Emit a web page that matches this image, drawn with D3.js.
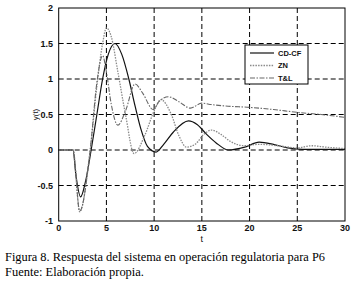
<!DOCTYPE html>
<meta charset="utf-8">
<html>
<head>
<style>
  body { margin: 0; background: #fff; }
  svg { display: block; }
  .tick-label { font-family: "Liberation Sans", Arial, sans-serif; font-weight: bold; font-size: 9px; fill: #111; }
  .caption { font-family: "Liberation Serif", "Times New Roman", "DejaVu Serif", serif; font-size: 11.5px; fill: #000; }
</style>
</head>
<body>
<div id="chart"></div>
<script src="https://d3js.org/d3.v7.min.js"></script>
<script>
// series
var cdcfT = [0, 1.5, 1.8, 2.3, 2.8, 3.4, 4.0, 4.6, 5.2, 5.9, 6.6, 7.35, 8.0, 8.6, 9.3, 10.2, 11.0, 12.0, 13.6, 14.5, 15.5, 16.5, 17.8, 19.5, 21.0, 22.5, 24, 25.5, 27, 30];
var cdcfV = [0, 0, -0.35, -0.66, -0.45, 0, 0.5, 1.0, 1.35, 1.5, 1.35, 1.0, 0.62, 0.3, 0.05, -0.03, 0.08, 0.25, 0.41, 0.36, 0.22, 0.1, 0.0, 0.04, 0.11, 0.08, 0.03, 0.01, 0.01, 0.01];

var znT = [0, 1.5, 2.2, 3.3, 4.0, 4.6, 5.0, 5.5, 6.2, 7.0, 7.9, 9.0, 10.0, 10.7, 11.8, 12.6, 13.4, 14.3, 15.2, 16.0, 17.0, 18.0, 19.5, 21, 23, 25, 26.5, 28, 30];
var znV = [0, 0, -0.87, 0, 0.9, 1.5, 1.72, 1.6, 1.1, 0.5, -0.05, 0.2, 0.55, 0.71, 0.5, 0.2, 0.04, 0.08, 0.22, 0.28, 0.22, 0.12, 0.06, 0.08, 0.06, 0.03, 0.06, 0.04, 0.02];

var tlT = [0, 1.5, 2.2, 3.3, 4.0, 4.6, 5.0, 5.5, 6.2, 7.0, 8.0, 8.8, 9.9, 10.5, 11.5, 12.6, 13.8, 15.0, 16.0, 17.5, 20, 22.5, 25, 27.5, 30];
var tlV = [0, 0, -0.86, 0, 0.95, 1.33, 1.1, 0.65, 0.35, 0.55, 0.93, 0.8, 0.57, 0.68, 0.75, 0.68, 0.59, 0.66, 0.64, 0.62, 0.6, 0.57, 0.53, 0.5, 0.46];

var seriesNames = ["CD-CF", "ZN", "T&L"];
var xTicks = [0, 5, 10, 15, 20, 25, 30];
var yTicks = [-1, -0.5, 0, 0.5, 1, 1.5, 2];
var captionLines = ["Figura 8. Respuesta del sistema en operación regulatoria para P6", "Fuente: Elaboración propia."];

var width = 357, height = 285;
var svg = d3.select("#chart").append("svg")
  .attr("width", width)
  .attr("height", height);

var x = d3.scaleLinear().domain([0, 30]).range([58.7, 345]);
var y = d3.scaleLinear().domain([-1, 2]).range([221, 8]);

// grid
svg.append("g").selectAll("line")
  .data(xTicks.slice(1, -1))
  .enter().append("line")
  .attr("x1", d => x(d)).attr("x2", d => x(d))
  .attr("y1", y(2)).attr("y2", y(-1))
  .attr("stroke", "#000").attr("stroke-width", 1)
  .attr("stroke-dasharray", "5,3");
svg.append("g").selectAll("line")
  .data(yTicks.slice(1, -1))
  .enter().append("line")
  .attr("x1", x(0)).attr("x2", x(30))
  .attr("y1", d => y(d)).attr("y2", d => y(d))
  .attr("stroke", "#000").attr("stroke-width", 1)
  .attr("stroke-dasharray", "5,3");

// curves
var line = d3.line()
  .x(d => x(d[0]))
  .y(d => y(d[1]))
  .curve(d3.curveMonotoneX);

var series = [
  { name: seriesNames[0], t: cdcfT, v: cdcfV, color: "#111", dash: null, w: 1.2 },
  { name: seriesNames[1], t: znT, v: znV, color: "#8a8a8a", dash: "1.5,1.2", w: 1.3 },
  { name: seriesNames[2], t: tlT, v: tlV, color: "#666", dash: "5,1.5,1.5,1.5", w: 1.1 }
];

svg.append("g").selectAll("path")
  .data(series)
  .enter().append("path")
  .attr("d", s => line(s.t.map((t, i) => [t, s.v[i]])))
  .attr("fill", "none")
  .attr("stroke", s => s.color)
  .attr("stroke-width", s => s.w)
  .attr("stroke-dasharray", s => s.dash);

// box
svg.append("rect")
  .attr("x", x(0)).attr("y", y(2))
  .attr("width", x(30) - x(0)).attr("height", y(-1) - y(2))
  .attr("fill", "none").attr("stroke", "#000").attr("stroke-width", 1);

// tick labels
svg.append("g").selectAll("text")
  .data(xTicks)
  .enter().append("text")
  .attr("class", "tick-label")
  .attr("x", d => x(d)).attr("y", 231)
  .attr("text-anchor", "middle")
  .text(d => d);
svg.append("g").selectAll("text")
  .data(yTicks)
  .enter().append("text")
  .attr("class", "tick-label")
  .attr("x", 53).attr("y", d => y(d) + 3)
  .attr("text-anchor", "end")
  .text(d => d);

svg.append("text")
  .attr("class", "tick-label")
  .style("font-weight", "normal")
  .attr("x", x(15)).attr("y", 242)
  .attr("text-anchor", "middle")
  .text("t");
svg.append("text")
  .attr("class", "tick-label")
  .style("font-weight", "normal")
  .style("font-size", "8px")
  .attr("transform", "translate(38," + y(0.5) + ") rotate(-90)")
  .attr("text-anchor", "middle")
  .text("y(t)");

// legend
var lg = svg.append("g").attr("transform", "translate(245,45)");
lg.append("rect")
  .attr("width", 63).attr("height", 39)
  .attr("fill", "#fff").attr("stroke", "#000").attr("stroke-width", 1);
var row = lg.selectAll(".row")
  .data(series)
  .enter().append("g")
  .attr("transform", (d, i) => "translate(0," + (8 + i * 12.5) + ")");
row.append("line")
  .attr("x1", 5).attr("x2", 29)
  .attr("stroke", d => d.color)
  .attr("stroke-width", d => d.w)
  .attr("stroke-dasharray", d => d.dash);
row.append("text")
  .attr("class", "tick-label")
  .style("font-size", "7.5px")
  .attr("x", 33).attr("y", 2.6)
  .text(d => d.name);

// caption
var capLen = [320, 139];
svg.append("g").selectAll("text")
  .data(captionLines)
  .enter().append("text")
  .attr("class", "caption")
  .attr("x", 5).attr("y", (d, i) => 261 + i * 15)
  .attr("textLength", (d, i) => capLen[i])
  .attr("lengthAdjust", "spacingAndGlyphs")
  .text(d => d);
</script>
</body>
</html>
